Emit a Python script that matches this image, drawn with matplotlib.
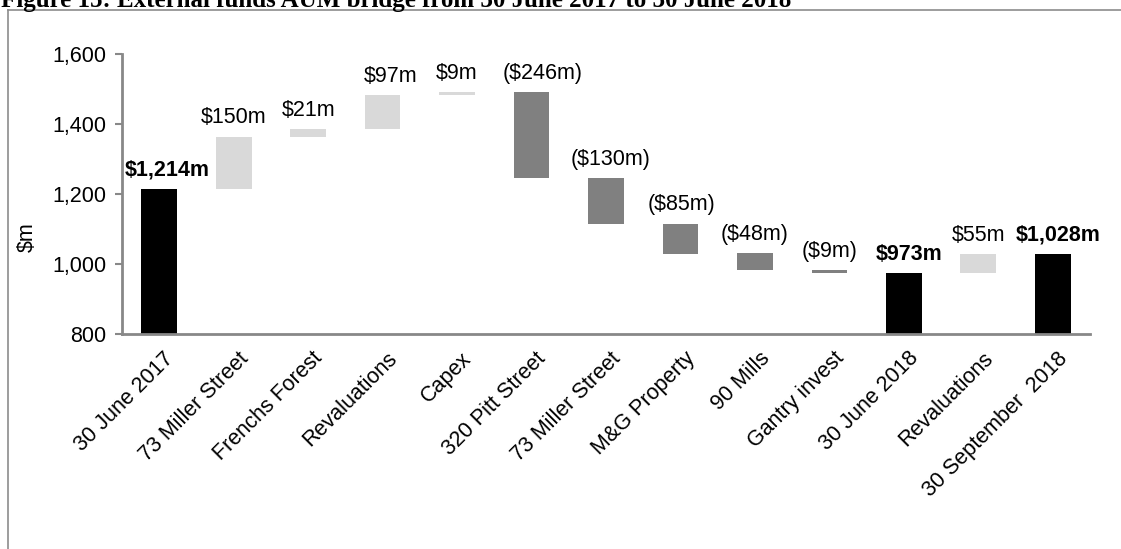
import matplotlib
matplotlib.use("Agg")
import matplotlib.pyplot as plt
import matplotlib.transforms as mtransforms
from matplotlib.lines import Line2D
import numpy as np

plt.rcParams['font.family'] = ['Liberation Sans', 'DejaVu Sans']

# AUM bridge data ($m)
categories = ["30 June 2017", "73 Miller Street", "Frenchs Forest", "Revaluations",
              "Capex", "320 Pitt Street", "73 Miller Street", "M&G Property",
              "90 Mills", "Gantry invest", "30 June 2018", "Revaluations",
              "30 September  2018"]
values = [1214, 150, 21, 97, 9, -246, -130, -85, -48, -9, 973, 55, 1028]
kinds = ["total", "up", "up", "up", "up", "down", "down", "down", "down", "down",
         "total", "up", "total"]

colors = {"total": "#000000", "up": "#d9d9d9", "down": "#808080"}
# small horizontal nudges (points) for a few value labels
label_dx = [6, 0, 0, 6, 0, 8, 3, 1, 0, 0, 4, 0, 4]

# waterfall bottoms / heights
bottoms, heights, tops = [], [], []
running = 0
for v, k in zip(values, kinds):
    if k == "total":
        bottoms.append(0)
        heights.append(v)
        running = v
    else:
        new = running + v
        bottoms.append(min(running, new))
        heights.append(abs(v))
        running = new
    tops.append(bottoms[-1] + heights[-1])

def fmt(v, k):
    s = "${:,}m".format(abs(v))
    return "(" + s + ")" if k == "down" else s

fig = plt.figure(figsize=(11.21, 5.49), dpi=100)
ax = fig.add_axes([122 / 1121, 1 - 334 / 549, 968 / 1121, 280 / 549])

x = np.arange(len(categories))
ax.bar(x, heights, bottom=bottoms, width=0.48,
       color=[colors[k] for k in kinds], zorder=2)

for xi, v, k, t, dx in zip(x, values, kinds, tops, label_dx):
    ax.annotate(fmt(v, k), (xi, t), xytext=(dx, 6), textcoords="offset points",
                ha="center", va="bottom", fontsize=15.5,
                fontweight="bold" if k == "total" else "normal")

ax.set_xlim(-0.5, len(categories) - 0.5)
ax.set_ylim(800, 1600)
yt = [800, 1000, 1200, 1400, 1600]
ax.set_yticks(yt)
ax.set_yticklabels(["{:,}".format(t) for t in yt], fontsize=15.5)
ax.set_ylabel("$m", fontsize=15.5)
ax.yaxis.set_label_coords(-0.087, 0.346)

ax.set_xticks(x)
ax.set_xticklabels(categories, rotation=45, ha="right", rotation_mode="anchor",
                   fontsize=15.5)
ax.tick_params(axis="x", length=0, pad=10)
ax.tick_params(axis="y", length=5, width=1.5, color="#888888", pad=6)
shift = mtransforms.ScaledTranslation(4 / 100, 0, fig.dpi_scale_trans)
for lbl in ax.get_xticklabels():
    lbl.set_transform(lbl.get_transform() + shift)

for s in ["top", "right"]:
    ax.spines[s].set_visible(False)
for s in ["left", "bottom"]:
    ax.spines[s].set_color("#888888")
    ax.spines[s].set_linewidth(2)

# page frame and heading
fig.add_artist(Line2D([8 / 1121, 1], [1 - 9.5 / 549, 1 - 9.5 / 549],
                      transform=fig.transFigure, color="#8c8c8c", lw=1.2))
fig.add_artist(Line2D([8 / 1121, 8 / 1121], [0, 1 - 9.5 / 549],
                      transform=fig.transFigure, color="#8c8c8c", lw=1.2))
fig.text(1 / 1121, 1 - 7 / 549,
         "Figure 15: External funds AUM bridge from 30 June 2017 to 30 June 2018",
         family="Liberation Serif", fontweight="bold", fontsize=18,
         ha="left", va="baseline")

fig.savefig("out.png", dpi=100)
